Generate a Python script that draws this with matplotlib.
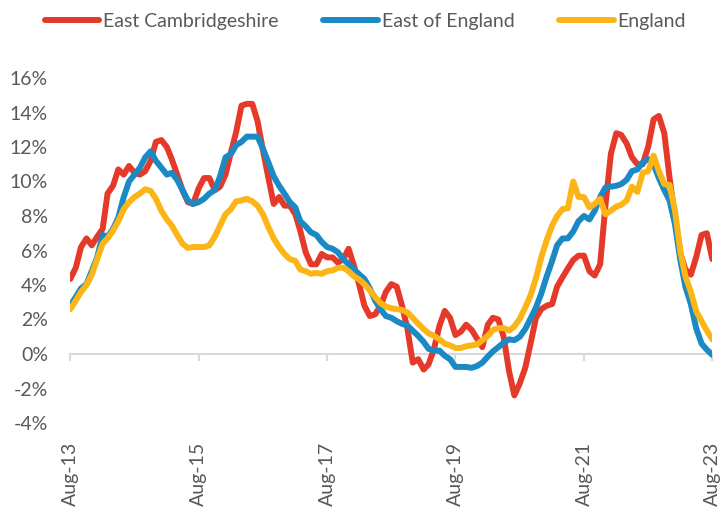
import matplotlib

matplotlib.use("Agg")

import matplotlib.dates as mdates
import matplotlib.pyplot as plt
import pandas as pd
from matplotlib.ticker import FuncFormatter, MultipleLocator

# monthly annual house price change (%), Aug-13 to Aug-23
months = pd.date_range("2013-08-01", "2023-08-01", freq="MS")

east_cambs = [
    4.35, 5.0, 6.2, 6.7, 6.3, 6.8, 7.25, 9.3, 9.75, 10.7, 10.4, 10.9, 10.5,
    10.4, 10.6, 11.2, 12.3, 12.4, 12.0, 11.3, 10.4, 9.5, 8.8, 8.7, 9.6,
    10.2, 10.2, 9.5, 9.7, 10.4, 11.7, 12.85, 14.4, 14.5, 14.5, 13.5, 11.8,
    10.2, 8.7, 9.1, 8.6, 8.6, 8.1, 7.15, 5.9, 5.2, 5.2, 5.8, 5.6,
    5.6, 5.3, 5.5, 6.1, 5.1, 3.95, 2.8, 2.2, 2.3, 2.8, 3.6, 4.05, 3.9,
    2.8, 1.45, -0.5, -0.3, -0.9, -0.6, 0.3, 1.6, 2.5, 2.1,
    1.1, 1.3, 1.7, 1.4, 0.9, 0.4, 1.7, 2.1, 2.0, 1.0, -1.0, -2.4,
    -1.7, -0.8, 0.6, 2.1, 2.6, 2.8, 2.9, 3.9, 4.45, 4.95, 5.45, 5.7,
    5.7, 4.8, 4.55, 5.2, 8.6, 11.6, 12.8, 12.7, 12.2, 11.4, 11.0, 11.0,
    12.0, 13.6, 13.8, 12.8, 10.2, 7.9, 5.8, 4.9, 4.6, 5.6, 6.9, 7.0, 5.5,
]

east_of_england = [
    2.8, 3.3, 3.8, 4.05, 4.8, 5.6, 6.9, 6.8, 7.25, 7.9, 9.1, 10.0, 10.4,
    10.8, 11.4, 11.75, 11.2, 10.8, 10.4, 10.5, 10.1, 9.5, 8.9, 8.7, 8.8,
    9.0, 9.3, 9.5, 10.3, 11.4, 11.6, 12.1, 12.3, 12.6, 12.6, 12.6, 11.9,
    11.1, 10.3, 9.75, 9.3, 8.8, 8.5, 7.7, 7.4, 7.05, 6.9, 6.5, 6.2,
    6.1, 5.9, 5.5, 5.2, 4.9, 4.6, 4.35, 3.8, 3.1, 2.6, 2.2, 2.1, 1.9,
    1.75, 1.65, 1.35, 1.05, 0.7, 0.3, 0.2, 0.2, -0.1, -0.3,
    -0.75, -0.75, -0.75, -0.8, -0.7, -0.5, -0.15, 0.15, 0.4, 0.65, 0.85, 0.8,
    1.0, 1.45, 2.05, 2.7, 3.5, 4.5, 5.4, 6.3, 6.7, 6.7, 7.1, 7.7,
    8.0, 7.8, 8.3, 9.1, 9.65, 9.7, 9.75, 9.85, 10.1, 10.6, 10.7, 11.1,
    11.3, 11.0, 10.2, 9.5, 8.9, 7.5, 5.4, 3.9, 2.9, 1.5, 0.6, 0.25, -0.05,
]

england = [
    2.6, 3.1, 3.6, 4.0, 4.6, 5.5, 6.4, 6.7, 7.15, 7.7, 8.4, 8.8, 9.1,
    9.3, 9.55, 9.45, 9.0, 8.3, 7.8, 7.45, 6.9, 6.4, 6.15, 6.2, 6.2,
    6.2, 6.3, 6.8, 7.45, 8.1, 8.4, 8.85, 8.9, 9.0, 8.85, 8.6, 8.1,
    7.35, 6.7, 6.2, 5.8, 5.5, 5.4, 4.9, 4.8, 4.65, 4.7, 4.65, 4.8,
    4.85, 5.0, 5.0, 4.8, 4.5, 4.3, 4.05, 3.7, 3.3, 2.95, 2.75, 2.65, 2.6,
    2.55, 2.4, 2.1, 1.75, 1.45, 1.2, 1.05, 0.85, 0.6, 0.5,
    0.35, 0.35, 0.45, 0.5, 0.55, 0.8, 1.05, 1.4, 1.5, 1.5, 1.35, 1.6,
    2.05, 2.7, 3.4, 4.4, 5.6, 6.6, 7.45, 8.0, 8.4, 8.45, 10.0, 9.1,
    9.1, 8.5, 8.7, 9.0, 8.1, 8.3, 8.55, 8.65, 8.9, 9.7, 9.4, 10.5,
    10.6, 11.5, 10.6, 9.85, 9.8, 8.3, 5.9, 4.5, 3.6, 2.5, 1.9, 1.35, 0.85,
]

series = [
    ("East Cambridgeshire", east_cambs, "#E5392A"),
    ("East of England", east_of_england, "#1B8AC4"),
    ("England", england, "#FCB517"),
]

TEXT_COLOR = "#595959"
plt.rcParams["font.family"] = ["Lato", "DejaVu Sans"]
plt.rcParams["axes.unicode_minus"] = False

fig = plt.figure(figsize=(7.25, 5.08), dpi=100)
ax = fig.add_axes([70.3 / 725, 85 / 508, 642 / 725, 345 / 508])

for name, values, color in series:
    ax.plot(
        months, values, color=color, lw=4.3, label=name,
        solid_capstyle="round", solid_joinstyle="round",
    )

ax.set_xlim(months[0], months[-1])
ax.set_ylim(-4, 16)
ax.yaxis.set_major_locator(MultipleLocator(2))
ax.yaxis.set_major_formatter(FuncFormatter(lambda v, _: f"{v:.0f}%"))

# a label every two years, from the first month
ax.set_xticks(months[::24])
ax.xaxis.set_major_formatter(mdates.DateFormatter("%b-%y"))

for side in ("left", "right", "top"):
    ax.spines[side].set_visible(False)
ax.spines["bottom"].set_position(("data", 0))
ax.spines["bottom"].set_color("#D9D9D9")
ax.spines["bottom"].set_linewidth(1.5)
ax.spines["bottom"].set_zorder(0)

ax.tick_params(axis="y", length=0, pad=16, labelsize=14, labelcolor=TEXT_COLOR)
ax.tick_params(
    axis="x", length=5, width=1.5, color="#D9D9D9", direction="out",
    pad=58, labelsize=14, labelcolor=TEXT_COLOR, labelrotation=90,
)
ax.set_facecolor("none")

fig.legend(
    loc="center", bbox_to_anchor=(0.504, 0.958), ncol=3, frameon=False,
    fontsize=14, handlelength=2.8, handletextpad=0.2, columnspacing=2.3,
    labelcolor=TEXT_COLOR,
)

fig.savefig("out.png", dpi=100)
plt.close(fig)
